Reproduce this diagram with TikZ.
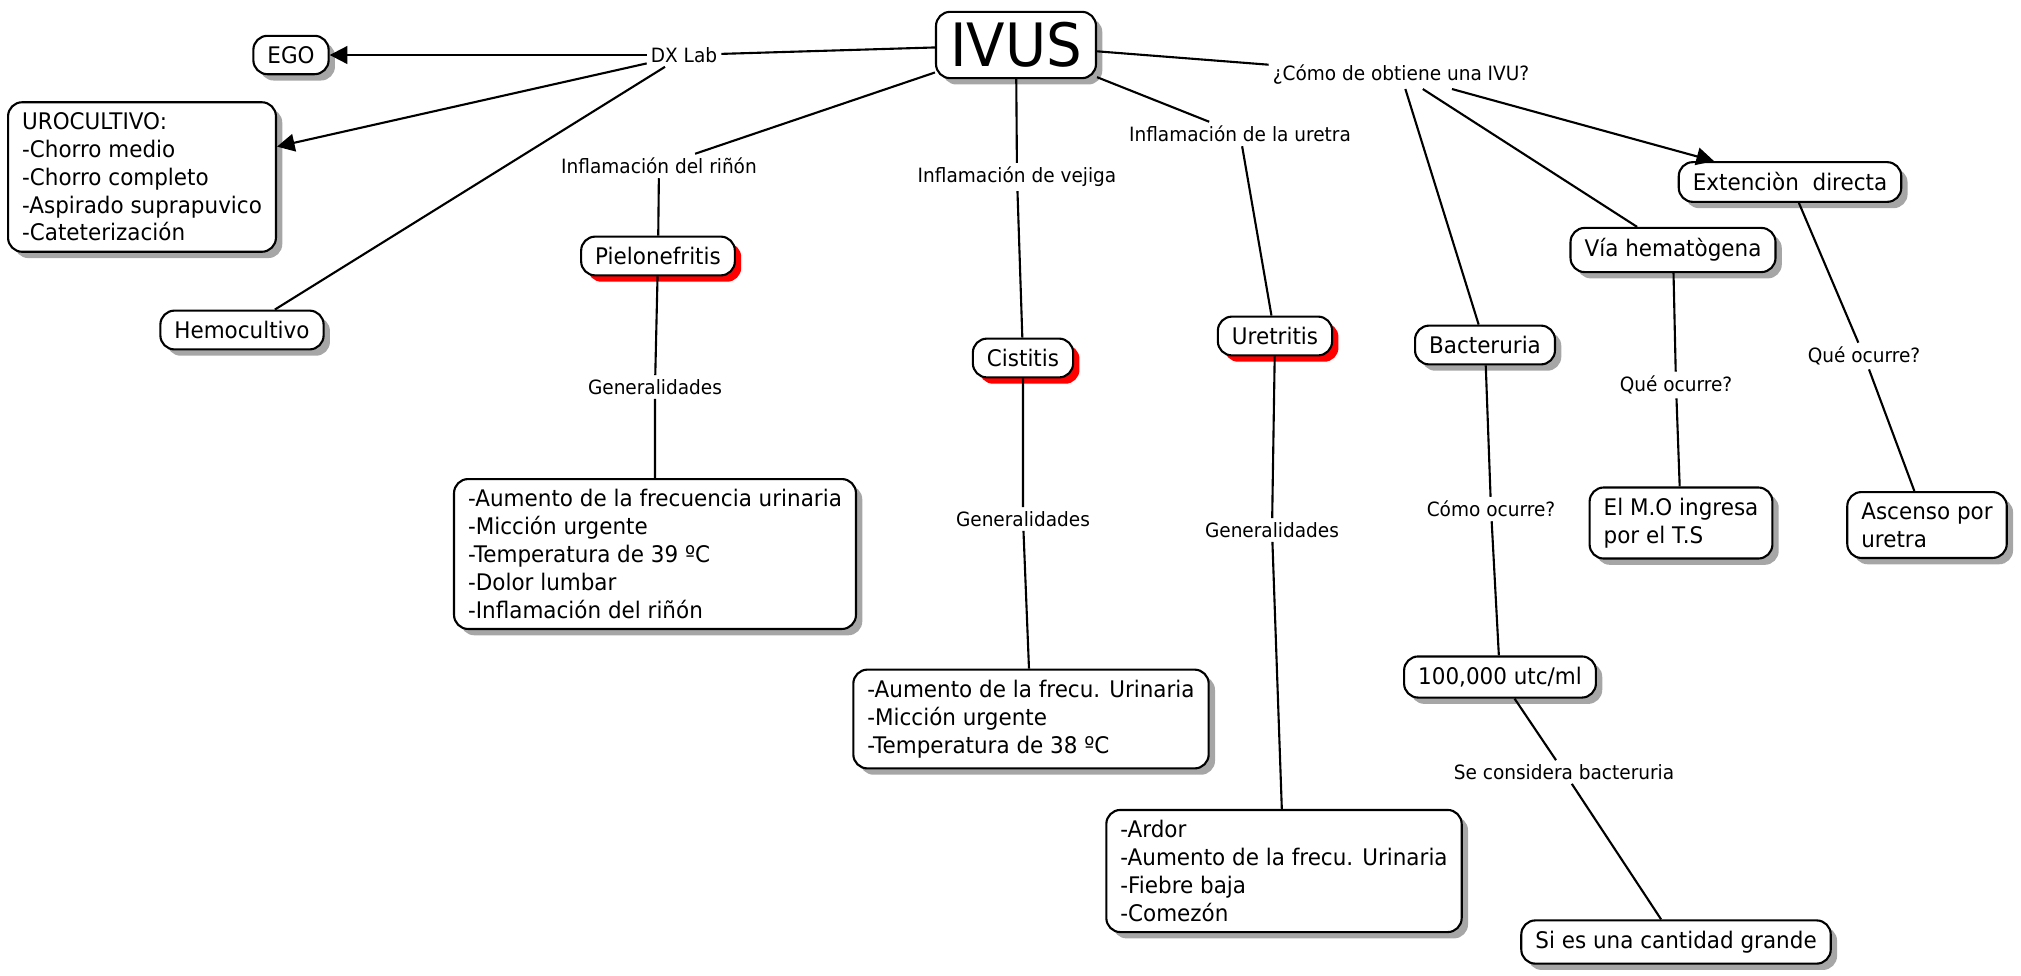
\documentclass[tikz,border=0pt]{standalone}
\usepackage{fontspec}
\setmainfont{DejaVu Sans}[FakeStretch=0.94]
\usetikzlibrary{arrows.meta,shadows}
\tikzset{
  caja/.style={draw,rounded corners=4pt,fill=white,align=left,inner xsep=4pt,inner ysep=3pt,
    font=\fontsize{6.5}{7.9}\selectfont,line width=0.6pt},
  concepto/.style={caja,drop shadow={shadow xshift=1.8pt,shadow yshift=-1.8pt,fill=gray!70,opacity=1}},
  enfermedad/.style={caja,drop shadow={shadow xshift=1.8pt,shadow yshift=-1.8pt,fill=red,opacity=1}},
  enlace/.style={fill=white,inner sep=1pt,font=\fontsize{5.6}{6.7}\selectfont},
  linea/.style={line width=0.6pt},
  flecha/.style={linea,-{Triangle[length=5pt,width=5pt]}}
}
\begin{document}
\begin{tikzpicture}[x=0.01cm,y=-0.01cm]
\useasboundingbox (0,0) rectangle (2021,975);
\node[concepto,font=\fontsize{17}{20}\selectfont,inner ysep=3pt] (ivus) at (1016,45) {IVUS};
\node[concepto] (ego) at (291,55) {EGO};
\node[concepto] (uro) at (142,177) {UROCULTIVO:\\-Chorro medio\\-Chorro completo\\-Aspirado suprapuvico\\-Cateterización};
\node[concepto] (hemo) at (242,330) {Hemocultivo};
\node[enfermedad] (pielo) at (658,256) {Pielonefritis};
\node[enfermedad] (cist) at (1023,358) {Cistitis};
\node[enfermedad] (uret) at (1275,336) {Uretritis};
\node[concepto] (bact) at (1485,345) {Bacteruria};
\node[concepto] (via) at (1673,250) {Vía hematògena};
\node[concepto] (ext) at (1790,182) {Extenciòn~ directa};
\node[concepto] (mo) at (1681,523) {El M.O ingresa\\por el T.S};
\node[concepto] (asc) at (1927,525) {Ascenso por\\uretra};
\node[concepto] (cien) at (1500,677) {100,000 utc/ml};
\node[concepto] (grande) at (1676,942) {Si es una cantidad grande};
\node[concepto] (lpielo) at (655,554) {-Aumento de la frecuencia urinaria\\-Micción urgente\\-Temperatura de 39 ºC\\-Dolor lumbar\\-Inflamación del riñón};
\node[concepto] (lcist) at (1031,719) {-Aumento de la frecu. Urinaria\\-Micción urgente\\-Temperatura de 38 ºC};
\node[concepto] (luret) at (1284,871) {-Ardor\\-Aumento de la frecu. Urinaria\\-Fiebre baja\\-Comezón};
\node[enlace] (dx) at (684,55) {DX Lab};
\node[enlace] (erinon) at (659,166) {Inflamación del riñón};
\node[enlace] (evejiga) at (1017,177) {Inflamación de vejiga};
\node[enlace] (euretra) at (1240,134) {Inflamación de la uretra};
\node[enlace] (ecomo) at (1401,75) {¿Cómo de obtiene una IVU?};
\node[enlace] (gpielo) at (655,387) {Generalidades};
\node[enlace] (gcist) at (1023,519) {Generalidades};
\node[enlace] (guret) at (1272,530) {Generalidades};
\node[enlace] (ocurre) at (1491,509) {Cómo ocurre?};
\node[enlace] (qvia) at (1676,385) {Qué ocurre?};
\node[enlace] (qext) at (1864,356) {Qué ocurre?};
\node[enlace] (considera) at (1564,772) {Se considera bacteruria};
\draw[linea] (ivus) -- (dx);
\draw[flecha] (dx) -- (ego);
\draw[flecha] (dx) -- (uro);
\draw[linea] (dx) -- (hemo);
\draw[linea] (ivus) -- (erinon) -- (pielo);
\draw[linea] (ivus) -- (evejiga) -- (cist);
\draw[linea] (ivus) -- (euretra) -- (uret);
\draw[linea] (ivus) -- (ecomo);
\draw[linea] (ecomo) -- (bact);
\draw[linea] (ecomo) -- (via);
\draw[flecha] (ecomo) -- (ext);
\draw[linea] (pielo) -- (gpielo) -- (lpielo);
\draw[linea] (cist) -- (gcist) -- (lcist);
\draw[linea] (uret) -- (guret) -- (luret);
\draw[linea] (bact) -- (ocurre) -- (cien);
\draw[linea] (cien) -- (considera) -- (grande);
\draw[linea] (via) -- (qvia) -- (mo);
\draw[linea] (ext) -- (qext) -- (asc);
\end{tikzpicture}
\end{document}
